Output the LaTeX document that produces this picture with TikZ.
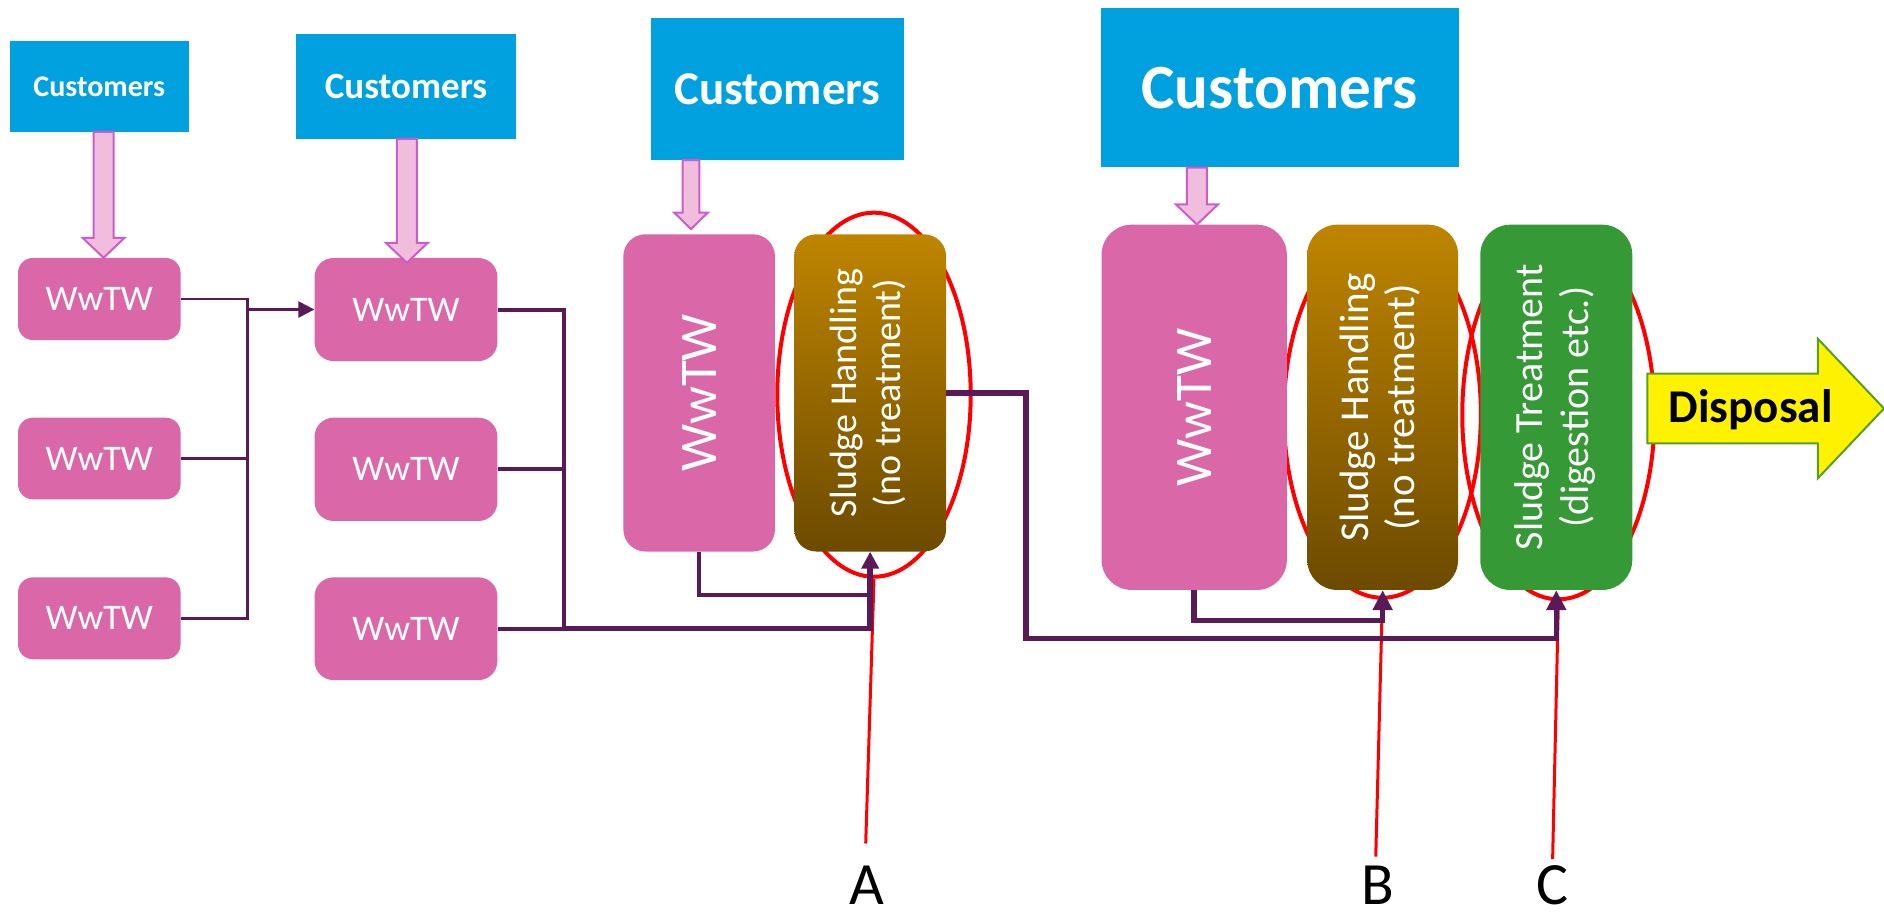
\documentclass[tikz,border=0pt]{standalone}
\usepackage{fontspec}
\setmainfont{Carlito}
\usepackage{graphicx}
\usetikzlibrary{arrows.meta,calc,shapes.geometric}
\definecolor{custblue}{HTML}{00A1DE}
\definecolor{wwpink}{HTML}{DA68A8}
\definecolor{pinkfill}{HTML}{F0BEDC}
\definecolor{pinkline}{HTML}{CC5CCC}
\definecolor{sludgetop}{HTML}{BF8500}
\definecolor{sludgebot}{HTML}{6C4A00}
\definecolor{treatgreen}{HTML}{359A35}
\definecolor{conpurple}{HTML}{5A1A57}
\definecolor{dispgreen}{HTML}{55A02A}
\newcommand\bx[7]{%
 \pgfmathsetmacro\bxw{(#4-#2)*1.2015}%
 \pgfmathsetmacro\bxh{(#5-#3)*1.2015}%
 \node[#6, minimum width=\bxw pt, minimum height=\bxh pt] (#1) at ({(#2+#4)/2},{(#3+#5)/2}) {#7};}
\newcommand\pinkarrow[7]{%
 \filldraw[pinkar] let \p1=(#1,0), \p2=(#2.south), \p3=(#3.north) in
 (\x1-#4,\y2) -- (\x1+#4,\y2) -- (\x1+#4,\y3+#6+#7) -- (\x1+#5,\y3+#6+#7) -- (\x1,\y3+#7) -- (\x1-#5,\y3+#6+#7) -- (\x1-#4,\y3+#6+#7) -- cycle;}
\newcommand\rottext[1]{\rotatebox{90}{\begin{tabular}{@{}c@{}}#1\end{tabular}}}
\begin{document}
\begin{tikzpicture}[x=1.2015pt,y=-1.2015pt,
 cust/.style={fill=custblue, text=white, inner sep=0pt},
 wwbox/.style={fill=wwpink, text=white, inner sep=0pt},
 sludge/.style={top color=sludgetop, bottom color=sludgebot, text=white, inner sep=0pt},
 treat/.style={fill=treatgreen, text=white, inner sep=0pt},
 pinkar/.style={fill=pinkfill, draw=pinkline, line width=2pt, line join=miter},
 ellred/.style={ellipse, draw=red, line width=4pt, inner sep=0pt},
 redl/.style={draw=red, line width=3pt},
 conA/.style={draw=conpurple, line width=2.5pt},
 conB/.style={draw=conpurple, line width=4pt},
 conC/.style={draw=conpurple, line width=5.5pt},
 lab/.style={inner sep=0pt, anchor=base, font=\fontsize{60}{68}\selectfont},
]
\useasboundingbox (0,0) rectangle (1568,764);
% ellipses (behind boxes)
\node[ellred, minimum width=161pt*1.2015, minimum height=303pt*1.2015] (eA) at (727.4,328.5) {};
\node[ellred, minimum width=164pt*1.2015, minimum height=306pt*1.2015] (eB) at (1150.5,344.5) {};
\node[ellred, minimum width=160pt*1.2015, minimum height=307pt*1.2015] (eC) at (1297,345.3) {};
% customers
\bx{C1}{8.3}{34.1}{157}{109.6}{cust,font=\fontsize{30}{36}\selectfont\bfseries}{Customers}
\bx{C2}{246.4}{28.3}{429.5}{115.4}{cust,font=\fontsize{37}{44}\selectfont\bfseries}{Customers}
\bx{C3}{541.8}{15}{752.4}{133}{cust,font=\fontsize{47}{56}\selectfont\bfseries}{Customers}
\bx{C4}{916}{6.7}{1214}{139.3}{cust,font=\fontsize{63}{75}\selectfont\bfseries}{Customers}
% WwTW boxes
\bx{L1}{15}{214.7}{150.3}{283}{wwbox,rounded corners=15pt,font=\fontsize{36}{43}\selectfont}{WwTW}
\bx{L2}{15}{347.6}{150.3}{415.6}{wwbox,rounded corners=15pt,font=\fontsize{36}{43}\selectfont}{WwTW}
\bx{L3}{15}{480.5}{150.3}{548.7}{wwbox,rounded corners=15pt,font=\fontsize{36}{43}\selectfont}{WwTW}
\bx{M1}{261.8}{214.7}{414}{300.5}{wwbox,rounded corners=19pt,font=\fontsize{36}{43}\selectfont}{WwTW}
\bx{M2}{261.8}{347.6}{414}{433.6}{wwbox,rounded corners=19pt,font=\fontsize{36}{43}\selectfont}{WwTW}
\bx{M3}{261.8}{480.5}{414}{566}{wwbox,rounded corners=19pt,font=\fontsize{36}{43}\selectfont}{WwTW}
\bx{W3}{518.8}{195}{645}{459}{wwbox,rounded corners=22pt,font=\fontsize{53}{63}\selectfont}{\rotatebox{90}{WwTW}}
\bx{SA}{661}{195}{787.4}{459}{sludge,rounded corners=22pt,font=\fontsize{38}{44}\selectfont}{\rottext{Sludge Handling\\(no treatment)}}
\bx{W4}{916.8}{187}{1071}{491}{wwbox,rounded corners=30pt,font=\fontsize{53}{63}\selectfont}{\rotatebox{90}{WwTW}}
\bx{SB}{1088}{187}{1213.5}{491}{sludge,rounded corners=30pt,font=\fontsize{41}{46}\selectfont}{\rottext{Sludge Handling\\(no treatment)}}
\bx{SC}{1232}{187}{1358.5}{491}{treat,rounded corners=30pt,font=\fontsize{40}{46}\selectfont}{\rottext{Sludge Treatment\\(digestion etc.)}}
% pink arrows
\pinkarrow{86.2}{C1}{L1}{10pt}{21pt}{20pt}{0pt}
\pinkarrow{338.6}{C2}{M1}{10pt}{21pt}{20pt}{-5pt}
\pinkarrow{575.1}{C3}{W3}{8.3pt}{16.7pt}{16.4pt}{5pt}
\pinkarrow{996.2}{C4}{W4}{10pt}{21pt}{20pt}{0pt}
% labels and red pointers
\node[lab] (lA) at (721.6,753) {A};
\node[lab] (lB) at (1147,753) {B};
\node[lab] (lC) at (1292,753) {C};
\coordinate (rA) at (720.5,702);
\coordinate (rB) at (1145,713);
\coordinate (rC) at (1292.2,715);
\draw[redl] (rA) -- (eA.south);
\draw[redl] (rB) -- (eB.south);
\draw[redl] (rC) -- (eC.south);
% connectors
\coordinate (jx1) at (206,0);
\coordinate (jx2) at (469.5,0);
\coordinate (jx3) at (853.7,0);
\coordinate (jy3) at (0,495);
\coordinate (jy4) at (0,516.3);
\coordinate (jy5) at (0,531.5);
\draw[conA] (L1.east) -- (L1.east -| jx1) -- (L3.east -| jx1) -- (L3.east);
\draw[conA] (L2.east) -- (L2.east -| jx1);
\draw[conA,-{Triangle[length=16pt,width=16pt]}] (M1.west -| jx1) -- (M1.west);
\draw[conB] (M1.east) -- (M1.east -| jx2) -- (M3.east -| jx2) -- (M3.east);
\draw[conB] (M2.east) -- (M2.east -| jx2);
\draw[conB] (W3.south) -- (W3.south |- jy3) -- (jy3 -| SA.south);
\draw[conC,-{Triangle[length=17pt,width=17pt]}] (M3.east -| jx2) -- (M3.east -| SA.south) -- (SA.south);
\draw[conC,-{Triangle[length=20pt,width=19pt]}] (SA.east) -- (SA.east -| jx3) -- (jy5 -| jx3) -- (jy5 -| SC.south) -- (SC.south);
\draw[conC,-{Triangle[length=20pt,width=19pt]}] (W4.south) -- (W4.south |- jy4) -- (jy4 -| SB.south) -- (SB.south);
% disposal arrow
\filldraw[fill=yellow, draw=dispgreen, line width=2pt, line join=miter]
 (1371,311) -- (1513,311) -- (1513,282) -- (1568,340) -- (1513,398) -- (1513,369) -- (1371,369) -- cycle;
\node[inner sep=0pt, font=\fontsize{47}{56}\selectfont\bfseries] (dsp) at (1457,341) {Disposal};
\end{tikzpicture}
\end{document}
